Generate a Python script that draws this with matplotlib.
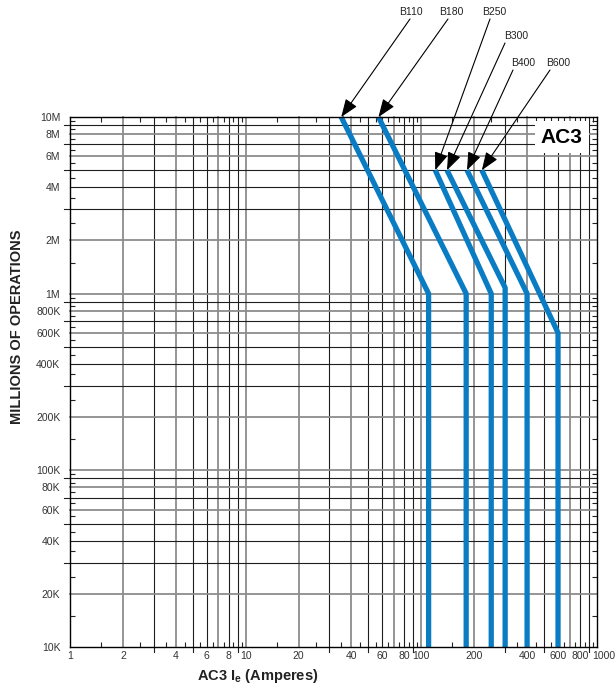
import numpy as np
import matplotlib
matplotlib.use('Agg')
import matplotlib.pyplot as plt
import matplotlib.transforms as mtransforms

plt.rcParams['font.family'] = ['Liberation Sans', 'DejaVu Sans']
plt.rcParams['mathtext.fontset'] = 'custom'
plt.rcParams['mathtext.bf'] = 'Liberation Sans:bold'
plt.rcParams['mathtext.rm'] = 'Liberation Sans'

# ---- data ----
models = ['B110', 'B180', 'B250', 'B300', 'B400', 'B600']
start_amps = [35, 57, 120, 140, 182, 221]          # where each curve begins (top)
start_ops = [10e6, 10e6, 5e6, 5e6, 5e6, 5e6]
rated_amps = [110, 180, 250, 300, 400, 600]        # vertical part of each curve
knee_ops = [1e6, 1e6, 1e6, 1.08e6, 1e6, 6e5]
min_ops = 1e4

x_ticks = [1, 2, 4, 6, 8, 10, 20, 40, 60, 80, 100, 200, 400, 600, 800, 1000]
x_labels = ['1', '2', '4', '6', '8', '10', '20', '40', '60', '80', '100',
            '200', '400', '600', '800', '1000']
y_ticks = [1e4, 2e4, 4e4, 6e4, 8e4, 1e5, 2e5, 4e5, 6e5, 8e5,
           1e6, 2e6, 4e6, 6e6, 8e6, 1e7]
y_labels = ['10K', '20K', '40K', '60K', '80K', '100K', '200K', '400K', '600K',
            '800K', '1M', '2M', '4M', '6M', '8M', '10M']

# label text positions in figure pixels (from top-left) for the arrows
label_pos = [(411, 12), (451, 12), (494, 12), (516, 36), (523, 63), (558, 63)]
tail_pos = [(410, 19), (448, 19), (490, 19), (505, 43), (513, 70), (550, 70)]

W, H = 616, 687
fig = plt.figure(figsize=(W / 100, H / 100), dpi=100)
ax = fig.add_axes([70 / W, 1 - 647 / H, 527 / W, 530 / H])
ax.set_xscale('log')
ax.set_yscale('log')
ax.set_xlim(1, 1000)
ax.set_ylim(1e4, 1e7)

dark = '#1e1e1e'
grey = '#8c8c8c'
xstyle = {1: grey, 2: grey, 3: dark, 4: grey, 5: dark, 6: dark, 7: grey, 8: dark, 9: dark}
ystyle = {1: grey, 2: grey, 3: dark, 4: dark, 5: dark, 6: grey, 7: dark, 8: grey, 9: dark}

tx = mtransforms.blended_transform_factory(ax.transData, ax.transAxes)
ty = mtransforms.blended_transform_factory(ax.transAxes, ax.transData)

# vertical grid
for dec in [1, 10, 100]:
    for m in range(2, 10):
        v = m * dec
        c = xstyle[m]
        lw = 0.8 if c == dark else 1.3
        y0 = -0.01 if m in (3, 5, 9) else 0
        ax.plot([v, v], [y0, 1], transform=tx, color=c, lw=lw, clip_on=False, zorder=1)
for v in [10, 100]:
    ax.plot([v, v], [0, 1], transform=tx, color=grey, lw=1.3, zorder=1)

# horizontal grid
for dec in [1e4, 1e5, 1e6]:
    for m in range(1, 10):
        v = m * dec
        if v == 1e4:
            continue
        c = ystyle[m]
        lw = 0.8 if c == dark else 1.3
        x0 = -0.012 if m in (3, 5, 7, 9) else 0
        ax.plot([x0, 1], [v, v], transform=ty, color=c, lw=lw, clip_on=False, zorder=1)

# curves
for i in range(len(models)):
    ax.plot([start_amps[i], rated_amps[i], rated_amps[i]],
            [start_ops[i], knee_ops[i], min_ops],
            color='#0a7cc4', lw=3.8, solid_capstyle='butt', zorder=3, clip_on=False)

# ticks
ax.set_xticks(x_ticks)
ax.set_xticklabels(x_labels)
ax.set_yticks(y_ticks)
ax.set_yticklabels(y_labels)
halves = []
for dec in [1, 10, 100]:
    for m in range(1, 10):
        halves.append((m + 0.5) * dec)
ax.set_xticks(halves, minor=True)
ax.set_xticklabels([], minor=True)
yhalves = []
for dec in [1e4, 1e5, 1e6]:
    for m in range(1, 10):
        yhalves.append((m + 0.5) * dec)
ax.set_yticks(yhalves, minor=True)
ax.set_yticklabels([], minor=True)
ax.tick_params(which='major', length=0, labelsize=7.5, labelcolor='#333333')
ax.tick_params(axis='y', which='major', pad=7)
ax.tick_params(axis='x', which='major', pad=3)
ax.tick_params(which='minor', direction='in', length=3.5, width=0.8,
               top=True, right=True, color='#222222')
last = ax.get_xticklabels()[-1]
last.set_transform(last.get_transform() +
                   mtransforms.ScaledTranslation(7 / 100, 0, fig.dpi_scale_trans))

for s in ax.spines.values():
    s.set_linewidth(1.0)
    s.set_color('black')
    s.set_zorder(4)

# AC3 box
ax.text(0.933, 0.962, 'AC3', transform=ax.transAxes, ha='center', va='center',
        fontsize=15, fontweight='bold', zorder=5,
        bbox=dict(boxstyle='square,pad=0.3', fc='white', ec='none'))

# arrows and model labels
for i in range(len(models)):
    lx, ly = label_pos[i]
    fig.text(lx / W, 1 - ly / H, models[i], ha='center', va='center',
             fontsize=7.5, color='#222222')
    tx0, ty0 = tail_pos[i]
    ax.annotate('', xy=(start_amps[i], start_ops[i]), xycoords='data',
                xytext=(tx0, H - ty0), textcoords='figure pixels',
                arrowprops=dict(arrowstyle='-|>,head_length=1.0,head_width=0.38',
                                mutation_scale=11, color='black', lw=0.8,
                                shrinkA=0, shrinkB=0),
                annotation_clip=False, zorder=6)

fig.text(17 / W, 1 - 327 / H, 'MILLIONS OF OPERATIONS', rotation=90,
         ha='center', va='center', fontsize=10.5, fontweight='bold', color='#222222')
fig.text(258 / W, 1 - 676 / H, r'AC3 I$_\mathbf{e}$ (Amperes)', ha='center',
         va='center', fontsize=10.5, fontweight='bold', color='#222222')

fig.savefig('out.png', dpi=100)
